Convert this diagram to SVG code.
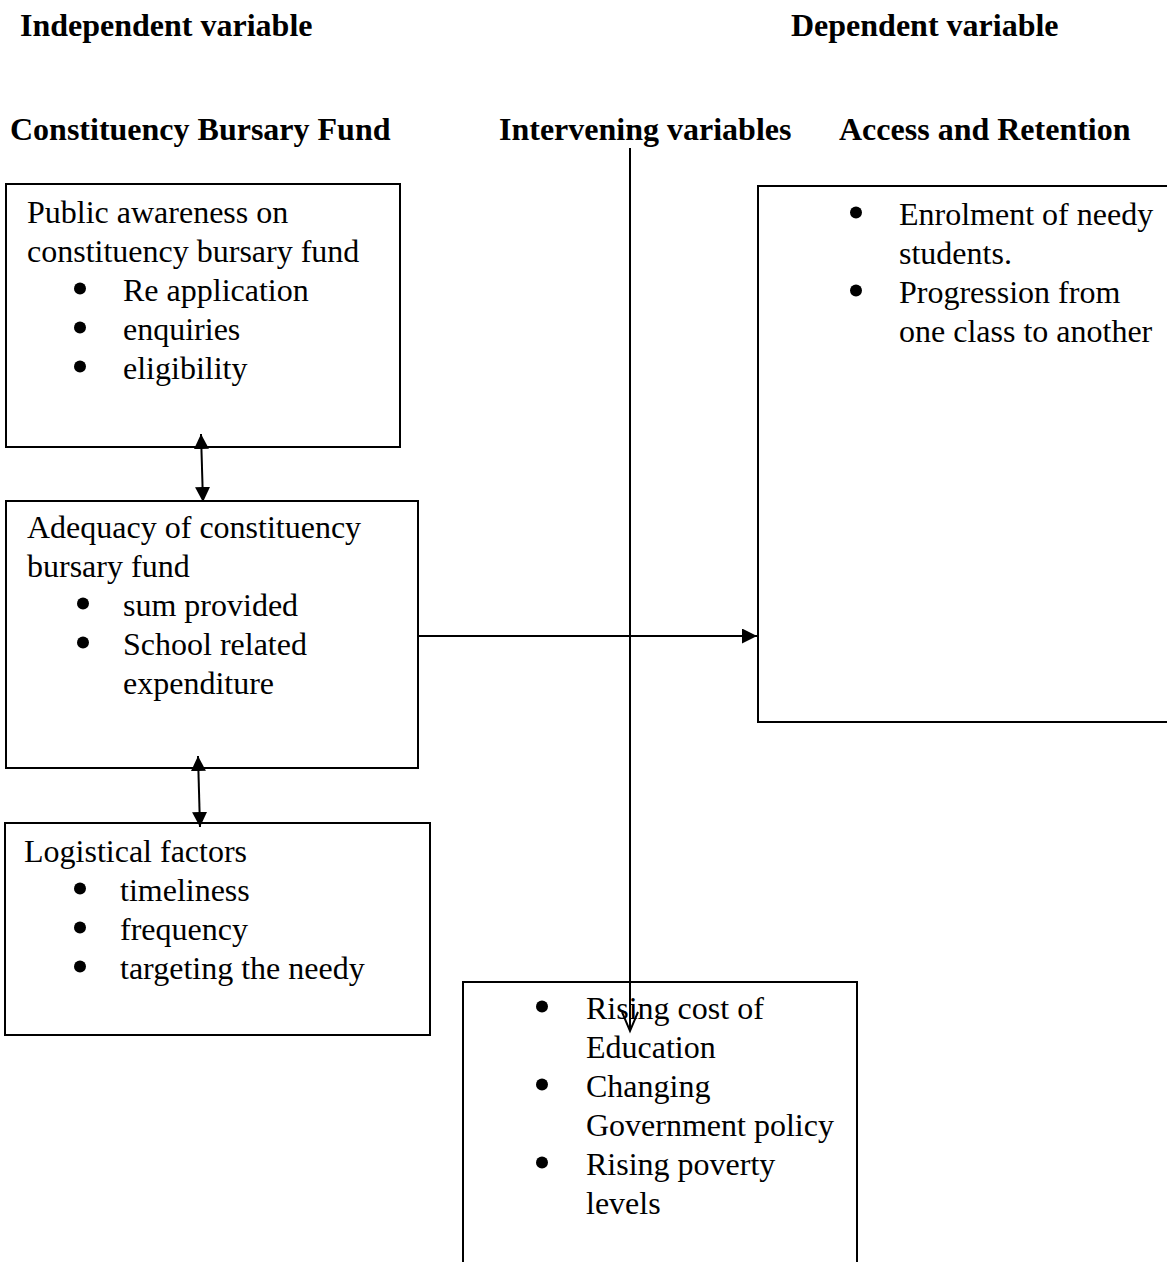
<svg xmlns="http://www.w3.org/2000/svg" width="1167" height="1262" viewBox="0 0 1167 1262">
<style>
text{font-family:"Liberation Serif","Times New Roman",serif;font-size:32px;fill:#000}
.h{font-weight:bold}
.bu{fill:#000}
.box{fill:#fff;stroke:#000;stroke-width:2}
.ln{stroke:#000;stroke-width:2;fill:none}
</style>
<defs>
<marker id="tri" viewBox="0 0 10 10" refX="10" refY="5" markerWidth="15" markerHeight="15" markerUnits="userSpaceOnUse" orient="auto-start-reverse">
<path d="M0,0 L10,5 L0,10 Z" fill="#000"/>
</marker>
</defs>
<rect width="1167" height="1262" fill="#fff"/>
<g id="headers">
<text class="h" x="20" y="36">Independent variable</text>
<text class="h" x="791" y="36">Dependent variable</text>
<text class="h" x="10" y="140">Constituency Bursary Fund</text>
<text class="h" x="499" y="140">Intervening variables</text>
<text class="h" x="839" y="140">Access and Retention</text>
</g>
<g id="node-awareness">
<rect class="box" x="6" y="184" width="394" height="263"/>
<text x="27" y="223">Public awareness on</text>
<text x="27" y="262">constituency bursary fund</text>
<circle class="bu" cx="80" cy="288.5" r="6"/><text x="123" y="301">Re application</text>
<circle class="bu" cx="80" cy="327.5" r="6"/><text x="123" y="340">enquiries</text>
<circle class="bu" cx="80" cy="366.5" r="6"/><text x="123" y="379">eligibility</text>
</g>
<g id="node-adequacy">
<rect class="box" x="6" y="501" width="412" height="267"/>
<text x="27" y="538">Adequacy of constituency</text>
<text x="27" y="577">bursary fund</text>
<circle class="bu" cx="83" cy="603.5" r="6"/><text x="123" y="616">sum provided</text>
<circle class="bu" cx="83" cy="642.5" r="6"/><text x="123" y="655">School related</text>
<text x="123" y="694">expenditure</text>
</g>
<g id="node-logistical">
<rect class="box" x="5" y="823" width="425" height="212"/>
<text x="24" y="862">Logistical factors</text>
<circle class="bu" cx="80" cy="888.5" r="6"/><text x="120" y="901">timeliness</text>
<circle class="bu" cx="80" cy="927.5" r="6"/><text x="120" y="940">frequency</text>
<circle class="bu" cx="80" cy="966.5" r="6"/><text x="120" y="979">targeting the needy</text>
</g>
<g id="node-access">
<rect class="box" x="758" y="186" width="420" height="536"/>
<circle class="bu" cx="856" cy="212.5" r="6"/><text x="899" y="225">Enrolment of needy</text>
<text x="899" y="264">students.</text>
<circle class="bu" cx="856" cy="290.5" r="6"/><text x="899" y="303">Progression from</text>
<text x="899" y="342">one class to another</text>
</g>
<g id="node-intervening">
<rect class="box" x="463" y="982" width="394" height="300"/>
<circle class="bu" cx="542" cy="1006.5" r="6"/><text x="586" y="1019">Rising cost of</text>
<text x="586" y="1058">Education</text>
<circle class="bu" cx="542" cy="1084.5" r="6"/><text x="586" y="1097">Changing</text>
<text x="586" y="1136">Government policy</text>
<circle class="bu" cx="542" cy="1162.5" r="6"/><text x="586" y="1175">Rising poverty</text>
<text x="586" y="1214">levels</text>
</g>
<g id="connectors">
<line class="ln" x1="201" y1="434" x2="203" y2="502" marker-start="url(#tri)" marker-end="url(#tri)"/>
<line class="ln" x1="198" y1="756" x2="200" y2="827" marker-start="url(#tri)" marker-end="url(#tri)"/>
<line class="ln" x1="418" y1="636" x2="757" y2="636" marker-end="url(#tri)"/>
<line class="ln" x1="630" y1="148" x2="630" y2="1030"/>
<polyline class="ln" points="622,1012 630,1031 638,1012"/>
</g>
</svg>
